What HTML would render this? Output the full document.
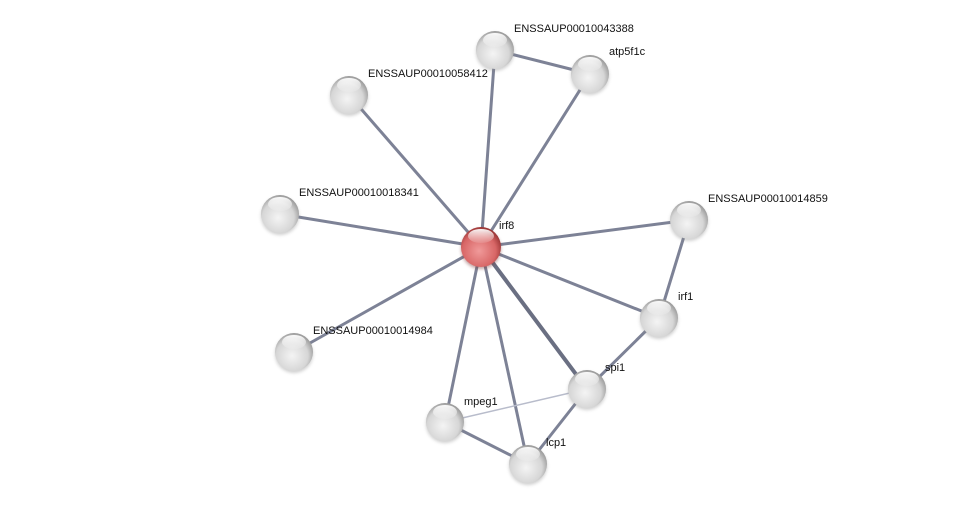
<!DOCTYPE html>
<html><head><style>body{margin:0;background:#fff}svg{display:block}text{font-family:"Liberation Sans",sans-serif;font-size:11px;fill:#111}</style></head>
<body>
<svg width="975" height="509" viewBox="0 0 975 509">
<defs>
<radialGradient id="g" cx="0.45" cy="0.6" r="0.6">
<stop offset="0" stop-color="#f4f4f4"/><stop offset="0.7" stop-color="#d6d6d6"/><stop offset="1" stop-color="#9a9a9a"/>
</radialGradient>
<radialGradient id="r" cx="0.45" cy="0.6" r="0.6">
<stop offset="0" stop-color="#f09a9a"/><stop offset="0.7" stop-color="#d86666"/><stop offset="1" stop-color="#9a3535"/>
</radialGradient>
<linearGradient id="h" x1="0" y1="0" x2="0" y2="1"><stop offset="0" stop-color="#fff" stop-opacity="0.95"/><stop offset="1" stop-color="#fff" stop-opacity="0.1"/></linearGradient>
<filter id="s" x="-30%" y="-30%" width="160%" height="160%"><feGaussianBlur stdDeviation="1.5"/></filter>
</defs>
<g stroke="#7d8296" stroke-width="3" stroke-linecap="round">
<line x1="481" y1="247" x2="495" y2="50"/>
<line x1="481" y1="247" x2="590" y2="74"/>
<line x1="481" y1="247" x2="349" y2="95"/>
<line x1="481" y1="247" x2="280" y2="214"/>
<line x1="481" y1="247" x2="294" y2="352"/>
<line x1="481" y1="247" x2="689" y2="220"/>
<line x1="481" y1="247" x2="659" y2="318"/>
<line x1="481" y1="247" x2="587" y2="389" stroke-width="4" stroke="#6a6f82"/>
<line x1="481" y1="247" x2="445" y2="422"/>
<line x1="481" y1="247" x2="528" y2="464"/>
<line x1="495" y1="50" x2="590" y2="74"/>
<line x1="689" y1="220" x2="659" y2="318"/>
<line x1="659" y1="318" x2="587" y2="389"/>
<line x1="587" y1="389" x2="528" y2="464"/>
<line x1="445" y1="422" x2="528" y2="464"/>
<line x1="445" y1="422" x2="587" y2="389" stroke-width="1.5" stroke="#b8bccb"/>
</g>
<g id="nodes">
<g transform="translate(495,50)"><circle r="19" cy="2" fill="#888" opacity="0.4" filter="url(#s)"/><circle r="19" fill="url(#g)"/><ellipse cy="-10" rx="12" ry="7" fill="url(#h)"/></g>
<g transform="translate(590,74)"><circle r="19" cy="2" fill="#888" opacity="0.4" filter="url(#s)"/><circle r="19" fill="url(#g)"/><ellipse cy="-10" rx="12" ry="7" fill="url(#h)"/></g>
<g transform="translate(349,95)"><circle r="19" cy="2" fill="#888" opacity="0.4" filter="url(#s)"/><circle r="19" fill="url(#g)"/><ellipse cy="-10" rx="12" ry="7" fill="url(#h)"/></g>
<g transform="translate(280,214)"><circle r="19" cy="2" fill="#888" opacity="0.4" filter="url(#s)"/><circle r="19" fill="url(#g)"/><ellipse cy="-10" rx="12" ry="7" fill="url(#h)"/></g>
<g transform="translate(294,352)"><circle r="19" cy="2" fill="#888" opacity="0.4" filter="url(#s)"/><circle r="19" fill="url(#g)"/><ellipse cy="-10" rx="12" ry="7" fill="url(#h)"/></g>
<g transform="translate(689,220)"><circle r="19" cy="2" fill="#888" opacity="0.4" filter="url(#s)"/><circle r="19" fill="url(#g)"/><ellipse cy="-10" rx="12" ry="7" fill="url(#h)"/></g>
<g transform="translate(659,318)"><circle r="19" cy="2" fill="#888" opacity="0.4" filter="url(#s)"/><circle r="19" fill="url(#g)"/><ellipse cy="-10" rx="12" ry="7" fill="url(#h)"/></g>
<g transform="translate(587,389)"><circle r="19" cy="2" fill="#888" opacity="0.4" filter="url(#s)"/><circle r="19" fill="url(#g)"/><ellipse cy="-10" rx="12" ry="7" fill="url(#h)"/></g>
<g transform="translate(445,422)"><circle r="19" cy="2" fill="#888" opacity="0.4" filter="url(#s)"/><circle r="19" fill="url(#g)"/><ellipse cy="-10" rx="12" ry="7" fill="url(#h)"/></g>
<g transform="translate(528,464)"><circle r="19" cy="2" fill="#888" opacity="0.4" filter="url(#s)"/><circle r="19" fill="url(#g)"/><ellipse cy="-10" rx="12" ry="7" fill="url(#h)"/></g>
<g transform="translate(481,247)"><circle r="20" cy="2" fill="#733" opacity="0.45" filter="url(#s)"/><circle r="20" fill="url(#r)"/><ellipse cy="-11" rx="13" ry="7" fill="url(#h)"/></g>
</g>
<text x="514" y="32">ENSSAUP00010043388</text>
<text x="609" y="55">atp5f1c</text>
<text x="368" y="77">ENSSAUP00010058412</text>
<text x="299" y="196">ENSSAUP00010018341</text>
<text x="499" y="229">irf8</text>
<text x="708" y="202">ENSSAUP00010014859</text>
<text x="678" y="300">irf1</text>
<text x="313" y="334">ENSSAUP00010014984</text>
<text x="605" y="371">spi1</text>
<text x="464" y="405">mpeg1</text>
<text x="546" y="446">lcp1</text>
</svg>
</body></html>
